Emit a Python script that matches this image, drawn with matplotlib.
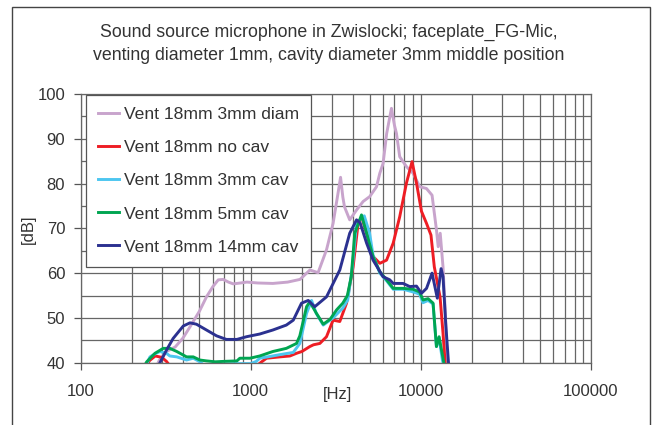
import matplotlib
matplotlib.use("Agg")
import matplotlib.pyplot as plt
from matplotlib.ticker import LogLocator, MultipleLocator, NullFormatter
from matplotlib.patches import Rectangle

plt.rcParams['font.family'] = ['Liberation Sans', 'DejaVu Sans']

# --- data (frequency in Hz, level in dB) ---
diam_f = [270, 290, 320, 360, 400, 440, 500, 550, 600, 645, 690, 740, 790, 870, 950,
          1100, 1350, 1650, 1950, 2230, 2490, 2790, 3050, 3250, 3375, 3480, 3560, 3820,
          4190, 4580, 5010, 5490, 5740, 6000, 6300, 6720, 7000, 7190, 7515, 8225, 9000,
          9850, 10790, 11640, 12360, 12650, 13000, 13500, 13940, 14300]
diam_db = [38, 40.5, 42.5, 43.5, 45.5, 48, 51.5, 54.7, 57, 58.5, 58.6, 58.0, 57.6, 57.8, 58.0,
           57.8, 57.7, 58.0, 58.6, 60.7, 60.1, 65.2, 71.1, 77.5, 81.4, 77, 74.8, 71.9,
           74.1, 76.0, 77.1, 79.3, 82.3, 84.5, 91.2, 96.8, 93, 91.2, 86.0, 83.8, 82.3,
           79.3, 78.9, 77.4, 69.6, 65.9, 68.9, 61.4, 51.0, 39]

nocav_f = [240, 255, 275, 300, 320, 340, 1100, 1160, 1240, 1485, 1700, 1860, 2000, 2225,
           2340, 2550, 2790, 3050, 3340, 3660, 4000, 4280, 4490, 4800, 5240, 5740, 6290,
           6880, 7515, 8230, 8880, 9430, 10090, 10800, 11470, 12000, 12970, 13500, 13950]
nocav_db = [39, 40.5, 41.5, 41.2, 40.3, 39, 39.5, 40.2, 41, 41.3, 41.5, 42.1, 42.5, 43.6,
            44, 44.3, 45.8, 49.5, 49.2, 53.3, 61.4, 71.1, 72.6, 68.9, 63.7, 62.2, 62.9,
            66.7, 72.6, 80.1, 84.9, 80.1, 73.8, 71.1, 68.5, 61.4, 54.7, 46.6, 39]

cav3_f = [240, 256, 275, 293, 320, 335, 368, 420, 460, 503, 530, 600, 800, 1000, 1080,
          1130, 1300, 1485, 1780, 1945, 2130, 2280, 2430, 2670, 3050, 3480, 3720, 3960,
          4190, 4650, 5000, 5240, 5740, 6290, 6880, 7860, 9000, 9830, 10300, 11030, 11800,
          12350, 12800, 13400, 13700]
cav3_db = [39, 41.3, 42, 42.5, 42.1, 41.5, 41.3, 40.6, 41, 40.2, 39.5, 39.6, 39.8, 39.8, 40.3,
           41, 41.4, 41.8, 42.3, 44.3, 51, 53.9, 51, 48.4, 50, 52.2, 54, 61.4,
           71.1, 72.8, 68.9, 64, 60, 58.3, 56.4, 56.4, 55.8, 55.3, 53.4, 53.9, 53.1,
           43.6, 45.6, 40.5, 39]

cav5_f = [235, 245, 274, 306, 335, 368, 420, 460, 503, 550, 620, 700, 830, 864, 990, 1130,
          1350, 1620, 1860, 1945, 2130, 2225, 2437, 2670, 2930, 3200, 3480, 3700, 3900,
          4090, 4480, 4800, 5240, 5740, 6290, 6880, 7860, 9000, 9830, 10300, 11030, 11800,
          12350, 12800, 13340, 13800]
cav5_db = [39, 40.2, 42.1, 43.2, 43.2, 42.5, 41.3, 41.3, 40.6, 40.4, 40.2, 40.3, 40.4, 41, 41,
           41.5, 42.5, 43.2, 44.3, 46, 52.5, 53.6, 51, 48.6, 49.7, 51.8, 53.3, 55, 59.2,
           68.9, 73, 68.9, 63.7, 60.3, 58.5, 56.6, 56.6, 56.4, 55.8, 54, 54.3, 53.3,
           43.6, 45.8, 42.1, 39]

cav14_f = [285, 293, 320, 350, 402, 440, 480, 550, 630, 720, 830, 945, 1130, 1350, 1620,
           1780, 1990, 2180, 2380, 2790, 3340, 3820, 4190, 4400, 4800, 5240, 6000, 6570,
           6880, 7860, 8610, 9430, 10090, 10800, 11640, 12500, 13150, 13500, 14000, 14600]
cav14_db = [39, 40, 42.8, 45.4, 48.2, 48.9, 48.6, 47.3, 46, 45.2, 45.2, 45.8, 46.4, 47.3, 48.4,
            49.5, 53.3, 53.9, 52.5, 54.7, 60.7, 68.9, 71.9, 71.2, 66.7, 62.9, 59.2, 58.5,
            57.7, 57.7, 57, 57.1, 55.5, 56.6, 60, 54.4, 61, 59.2, 48.8, 39]

labels = ["Vent 18mm 3mm diam", "Vent 18mm no cav", "Vent 18mm 3mm cav",
          "Vent 18mm 5mm cav", "Vent 18mm 14mm cav"]
colors = ["#C8A4CC", "#EE1D24", "#4DC6F0", "#00A551", "#2B3190"]

title = ("Sound source microphone in Zwislocki; faceplate_FG-Mic,\n"
         "venting diameter 1mm, cavity diameter 3mm middle position")

fig = plt.figure(figsize=(6.53, 4.25), dpi=100)
ax = fig.add_axes([80.5 / 653, 1 - 362.7 / 425, 510.5 / 653, 268.7 / 425])

series = [(diam_f, diam_db), (nocav_f, nocav_db), (cav3_f, cav3_db),
          (cav5_f, cav5_db), (cav14_f, cav14_db)]
for (f, db), lab, c in zip(series, labels, colors):
    ax.plot(f, db, color=c, lw=2.1, label=lab, solid_joinstyle='round')

ax.set_xscale('log')
ax.set_xlim(100, 100000)
ax.set_ylim(40, 100)
ax.xaxis.set_major_locator(LogLocator(base=10))
ax.xaxis.set_minor_locator(LogLocator(base=10, subs=range(2, 10)))
ax.xaxis.set_minor_formatter(NullFormatter())
ax.set_xticks([100, 1000, 10000, 100000], ["100", "1000", "10000", "100000"])
ax.yaxis.set_major_locator(MultipleLocator(10))
ax.yaxis.set_minor_locator(MultipleLocator(5))

ax.grid(True, which='both', color='#666666', lw=0.9)
ax.set_axisbelow(True)
ax.tick_params(which='major', direction='out', length=5, width=0.9, color='#555555',
               labelsize=12, labelcolor='#333333')
ax.tick_params(axis='x', which='major', pad=10)
ax.tick_params(axis='y', which='major', pad=6)
ax.tick_params(which='minor', length=0)
for s in ax.spines.values():
    s.set_color('#666666')
    s.set_linewidth(0.9)

fig.text(329 / 653, 1 - 44 / 425, title, ha='center', va='center', fontsize=12.8,
         color='#333333', linespacing=1.4)
fig.text(28 / 653, 1 - 229 / 425, "[dB]", rotation=90, ha='center', va='center',
         fontsize=12, color='#333333')
fig.text(337 / 653, 1 - 395 / 425, "[Hz]", ha='center', va='center',
         fontsize=12, color='#333333')

leg = ax.legend(loc='upper left', bbox_to_anchor=(0.011, 0.996), borderaxespad=0,
                fontsize=12.6, frameon=True, fancybox=False, framealpha=1,
                edgecolor='#555555', labelspacing=1.02, handlelength=1.2,
                handletextpad=0.3, borderpad=0.68, labelcolor='#333333')
leg.get_frame().set_linewidth(0.9)

# outer chart border
fig.patches.append(Rectangle((12 / 653, -0.05), 638 / 653, 1.05 - 7 / 425,
                             transform=fig.transFigure, fill=False,
                             edgecolor='#444444', lw=1.0))

fig.savefig("out.png", dpi=100)
